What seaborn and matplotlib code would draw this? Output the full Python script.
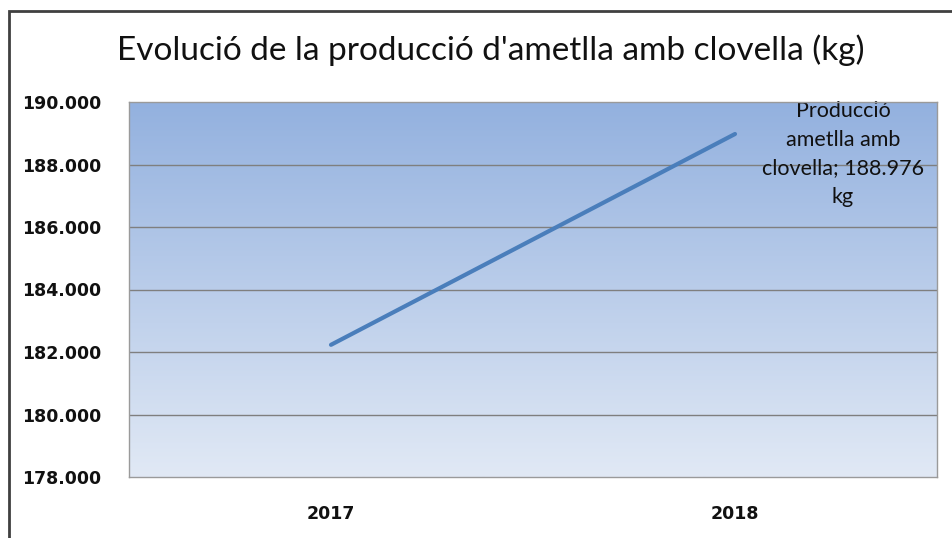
import numpy as np
import pandas as pd
import matplotlib
matplotlib.use("Agg")
import matplotlib.pyplot as plt
import seaborn as sns
from matplotlib.ticker import FuncFormatter
from matplotlib.patches import Rectangle

# ── Data ──────────────────────────────────────────────────────────────────────
years = ["2017", "2018"]
production_kg = [182230, 188976]
y_ticks = [178000, 180000, 182000, 184000, 186000, 188000, 190000]

title = "Evolució de la producció d'ametlla amb clovella (kg)"
label_text = "Producció\nametlla amb\nclovella; 188.976\nkg"

df = pd.DataFrame({"year": years, "kg": production_kg})

# ── Figure ────────────────────────────────────────────────────────────────────
sns.set_style("white")
W, H = 953, 538
fig = plt.figure(figsize=(W / 100, H / 100), dpi=100)
ax = fig.add_axes([129 / W, 1 - 477 / H, (937 - 129) / W, (477 - 102) / H])

# gradient background of the plot area
grad = np.linspace(0, 1, 256).reshape(-1, 1)
top_c = np.array([0x93, 0xB1, 0xDF]) / 255
bot_c = np.array([0xE1, 0xE9, 0xF5]) / 255
img = (1 - grad)[..., None] * top_c + grad[..., None] * bot_c
ax.imshow(img, extent=[-0.5, 1.5, 178000, 190000], aspect="auto",
          origin="upper", zorder=0)

for yv in y_ticks[1:-1]:
    ax.axhline(yv, color="#7f7f7f", lw=1, zorder=1)

sns.lineplot(data=df, x="year", y="kg", ax=ax, color="#4A7EBB",
             lw=3, sort=False, zorder=3)

ax.set_xlim(-0.5, 1.5)
ax.set_ylim(178000, 190000)
ax.set_yticks(y_ticks)
ax.yaxis.set_major_formatter(FuncFormatter(lambda v, _: f"{v:,.0f}".replace(",", ".")))
ax.set_xlabel("")
ax.set_ylabel("")
ax.tick_params(axis="both", length=0, labelsize=12.5)
ax.tick_params(axis="y", pad=20)
ax.tick_params(axis="x", pad=20)
for lab in ax.get_xticklabels() + ax.get_yticklabels():
    lab.set_fontweight("bold")
    lab.set_fontfamily("DejaVu Sans")
    lab.set_color("#111111")

for side in ["left", "bottom", "right", "top"]:
    ax.spines[side].set_color("#9a9a9a")
    ax.spines[side].set_linewidth(1)
    ax.spines[side].set_zorder(4)

ax.annotate(label_text, xy=(1, production_kg[1]), xytext=(108, -20),
            textcoords="offset pixels", ha="center", va="center",
            fontsize=15.5, family="Lato", color="#111111", linespacing=1.55,
            annotation_clip=False)

fig.text(491 / W, 1 - 50 / H, title, ha="center", va="center",
         fontsize=24, family="Lato", color="#111111")

# outer chart frame
fig.add_artist(Rectangle((9 / W, -0.05), 1.1, 1 - 11 / H + 0.05,
                         transform=fig.transFigure, fill=False,
                         edgecolor="#404040", lw=2))

fig.savefig("out.png", dpi=100)
